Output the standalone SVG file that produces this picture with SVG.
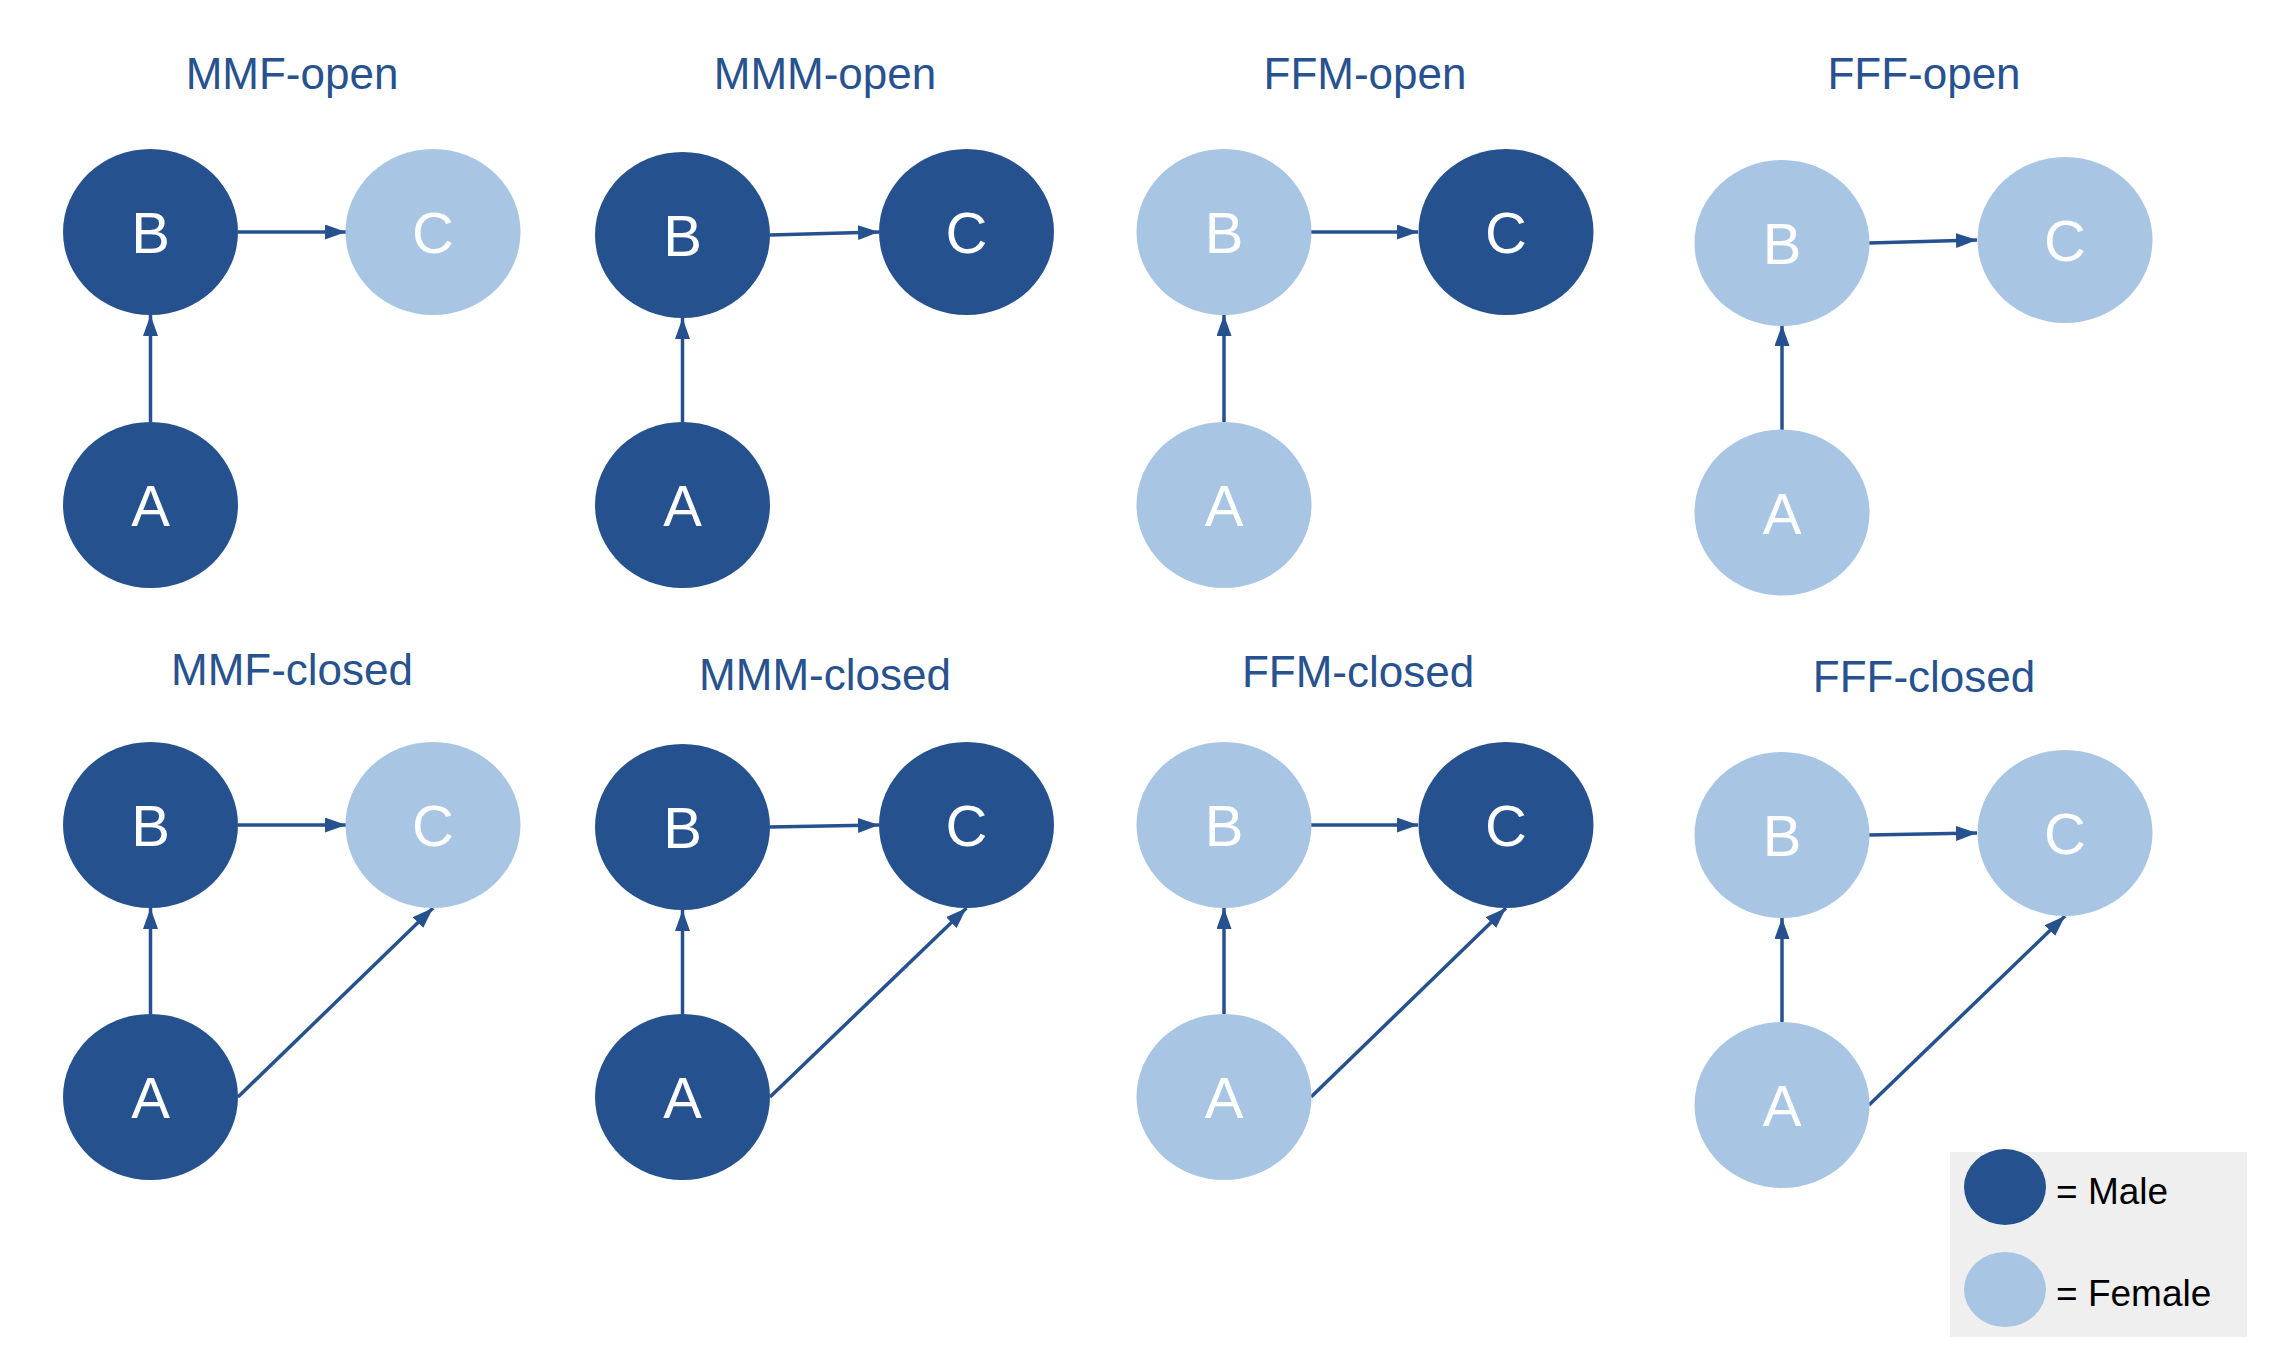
<svg xmlns="http://www.w3.org/2000/svg" width="2274" height="1368" viewBox="0 0 2274 1368">
<style>
.m{fill:#26518f}
.f{fill:#a8c6e4}
.lbl{font-family:"Liberation Sans",Arial,sans-serif;font-size:58px;fill:#ffffff;text-anchor:middle}
.ttl{font-family:"Liberation Sans",Arial,sans-serif;font-size:44px;fill:#27528f;text-anchor:middle}
.leg{font-family:"Liberation Sans",Arial,sans-serif;font-size:37px;fill:#000000}
.e{stroke:#26518f;stroke-width:3.5;fill:none;marker-end:url(#ah)}
</style>
<defs>
<marker id="ah" markerUnits="userSpaceOnUse" markerWidth="22" markerHeight="16" refX="21" refY="7.5" orient="auto">
<path d="M0,0 L21,7.5 L0,15 Z" fill="#26518f"/>
</marker>
</defs>
<rect width="2274" height="1368" fill="#ffffff"/>

<g id="titles">
<text class="ttl" x="292" y="89">MMF-open</text>
<text class="ttl" x="825" y="89">MMM-open</text>
<text class="ttl" x="1365" y="89">FFM-open</text>
<text class="ttl" x="1924" y="89">FFF-open</text>
<text class="ttl" x="292" y="685">MMF-closed</text>
<text class="ttl" x="825" y="690">MMM-closed</text>
<text class="ttl" x="1358" y="687">FFM-closed</text>
<text class="ttl" x="1924" y="692">FFF-closed</text>
</g>

<g id="connectors">
<line class="e" x1="238" y1="232" x2="346" y2="232"/>
<line class="e" x1="150.5" y1="422" x2="150.5" y2="315"/>
<line class="e" x1="770" y1="235" x2="879" y2="232"/>
<line class="e" x1="682.5" y1="422" x2="682.5" y2="318"/>
<line class="e" x1="1311" y1="232" x2="1418" y2="232"/>
<line class="e" x1="1224" y1="422" x2="1224" y2="315"/>
<line class="e" x1="1869" y1="243" x2="1977" y2="240"/>
<line class="e" x1="1782" y1="430" x2="1782" y2="325"/>

<line class="e" x1="238" y1="825" x2="346" y2="825"/>
<line class="e" x1="150.5" y1="1014" x2="150.5" y2="908"/>
<line class="e" x1="238" y1="1097" x2="433" y2="908"/>
<line class="e" x1="770" y1="827" x2="879" y2="825"/>
<line class="e" x1="682.5" y1="1014" x2="682.5" y2="910"/>
<line class="e" x1="770" y1="1097" x2="966.5" y2="908"/>
<line class="e" x1="1311" y1="825" x2="1418" y2="825"/>
<line class="e" x1="1224" y1="1014" x2="1224" y2="908"/>
<line class="e" x1="1311" y1="1097" x2="1506" y2="908"/>
<line class="e" x1="1869" y1="835" x2="1977" y2="833"/>
<line class="e" x1="1782" y1="1022" x2="1782" y2="918"/>
<line class="e" x1="1869" y1="1105" x2="2065" y2="916"/>
</g>

<!-- MMF-open -->
<g id="mmf-open-B"><ellipse class="m" cx="150.5" cy="232" rx="87.5" ry="83"/><text class="lbl" x="150.5" y="253">B</text></g>
<g id="mmf-open-C"><ellipse class="f" cx="433" cy="232" rx="87.5" ry="83"/><text class="lbl" x="433" y="253">C</text></g>
<g id="mmf-open-A"><ellipse class="m" cx="150.5" cy="505" rx="87.5" ry="83"/><text class="lbl" x="150.5" y="526">A</text></g>
<!-- MMM-open -->
<g id="mmm-open-B"><ellipse class="m" cx="682.5" cy="235" rx="87.5" ry="83"/><text class="lbl" x="682.5" y="256">B</text></g>
<g id="mmm-open-C"><ellipse class="m" cx="966.5" cy="232" rx="87.5" ry="83"/><text class="lbl" x="966.5" y="253">C</text></g>
<g id="mmm-open-A"><ellipse class="m" cx="682.5" cy="505" rx="87.5" ry="83"/><text class="lbl" x="682.5" y="526">A</text></g>
<!-- FFM-open -->
<g id="ffm-open-B"><ellipse class="f" cx="1224" cy="232" rx="87.5" ry="83"/><text class="lbl" x="1224" y="253">B</text></g>
<g id="ffm-open-C"><ellipse class="m" cx="1506" cy="232" rx="87.5" ry="83"/><text class="lbl" x="1506" y="253">C</text></g>
<g id="ffm-open-A"><ellipse class="f" cx="1224" cy="505" rx="87.5" ry="83"/><text class="lbl" x="1224" y="526">A</text></g>
<!-- FFF-open -->
<g id="fff-open-B"><ellipse class="f" cx="1782" cy="243" rx="87.5" ry="83"/><text class="lbl" x="1782" y="264">B</text></g>
<g id="fff-open-C"><ellipse class="f" cx="2065" cy="240" rx="87.5" ry="83"/><text class="lbl" x="2065" y="261">C</text></g>
<g id="fff-open-A"><ellipse class="f" cx="1782" cy="512.5" rx="87.5" ry="83"/><text class="lbl" x="1782" y="533.5">A</text></g>

<!-- MMF-closed -->
<g id="mmf-closed-B"><ellipse class="m" cx="150.5" cy="825" rx="87.5" ry="83"/><text class="lbl" x="150.5" y="846">B</text></g>
<g id="mmf-closed-C"><ellipse class="f" cx="433" cy="825" rx="87.5" ry="83"/><text class="lbl" x="433" y="846">C</text></g>
<g id="mmf-closed-A"><ellipse class="m" cx="150.5" cy="1097" rx="87.5" ry="83"/><text class="lbl" x="150.5" y="1118">A</text></g>
<!-- MMM-closed -->
<g id="mmm-closed-B"><ellipse class="m" cx="682.5" cy="827" rx="87.5" ry="83"/><text class="lbl" x="682.5" y="848">B</text></g>
<g id="mmm-closed-C"><ellipse class="m" cx="966.5" cy="825" rx="87.5" ry="83"/><text class="lbl" x="966.5" y="846">C</text></g>
<g id="mmm-closed-A"><ellipse class="m" cx="682.5" cy="1097" rx="87.5" ry="83"/><text class="lbl" x="682.5" y="1118">A</text></g>
<!-- FFM-closed -->
<g id="ffm-closed-B"><ellipse class="f" cx="1224" cy="825" rx="87.5" ry="83"/><text class="lbl" x="1224" y="846">B</text></g>
<g id="ffm-closed-C"><ellipse class="m" cx="1506" cy="825" rx="87.5" ry="83"/><text class="lbl" x="1506" y="846">C</text></g>
<g id="ffm-closed-A"><ellipse class="f" cx="1224" cy="1097" rx="87.5" ry="83"/><text class="lbl" x="1224" y="1118">A</text></g>
<!-- FFF-closed -->
<g id="fff-closed-B"><ellipse class="f" cx="1782" cy="835" rx="87.5" ry="83"/><text class="lbl" x="1782" y="856">B</text></g>
<g id="fff-closed-C"><ellipse class="f" cx="2065" cy="833" rx="87.5" ry="83"/><text class="lbl" x="2065" y="854">C</text></g>
<g id="fff-closed-A"><ellipse class="f" cx="1782" cy="1105" rx="87.5" ry="83"/><text class="lbl" x="1782" y="1126">A</text></g>

<g id="legend">
<rect x="1950" y="1152" width="297" height="185" fill="#efefef"/>
<ellipse class="m" cx="2005" cy="1187" rx="41" ry="38"/>
<text class="leg" x="2056" y="1204">= Male</text>
<ellipse class="f" cx="2005" cy="1289.5" rx="41" ry="37.5"/>
<text class="leg" x="2056" y="1306">= Female</text>
</g>
</svg>
